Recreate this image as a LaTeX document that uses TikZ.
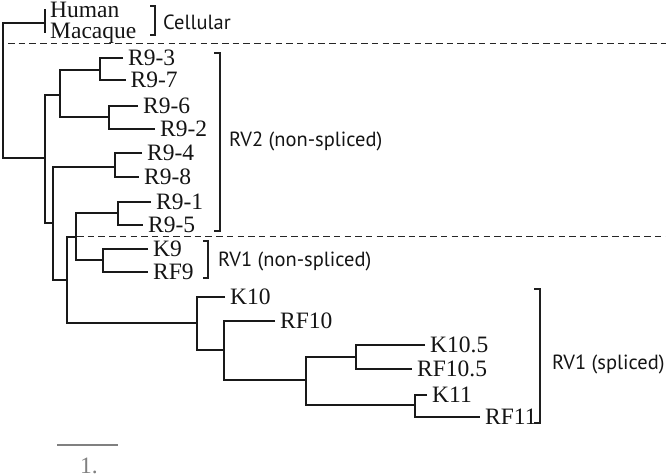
\documentclass[tikz,border=0pt]{standalone}
\usepackage{fontspec}
\setmainfont{Liberation Serif}
\newfontfamily\labsans{PT Sans}
\begin{document}
\begin{tikzpicture}[x=1pt,y=-1pt,
  tree/.style={line width=2pt, draw=black!90},
  leaf/.style={anchor=west, inner xsep=5pt, inner ysep=0pt, text height=15pt, text depth=0pt, font=\fontsize{23.5}{23.5}\selectfont, text=black!92},
  brk/.style={line width=1.5pt, draw=black!88},
  grp/.style={anchor=base west, inner sep=0pt, font=\labsans\fontsize{20.5}{21}\selectfont, text=black!92},
  sepline/.style={line width=1.3pt, draw=black!85, dash pattern=on 6.5pt off 4.2pt},
  scalebar/.style={line width=1.8pt, draw=black!50}]
\useasboundingbox (0,0) rectangle (666,475);

% internal nodes (x of node, y where parent joins)
\coordinate (root) at (3,90);
\coordinate (cell) at (45,23);
\coordinate (A) at (45,158);
\coordinate (B) at (60,95);
\coordinate (C) at (100,70);
\coordinate (D) at (109,117);
\coordinate (E) at (53,223);
\coordinate (F) at (115,167);
\coordinate (G) at (67,280);
\coordinate (H) at (76,237);
\coordinate (I) at (118,213);
\coordinate (J) at (103,260);
\coordinate (K) at (197,323);
\coordinate (L) at (224,350);
\coordinate (M) at (306,380);
\coordinate (N) at (356,357);
\coordinate (O) at (415,405);

% leaves
\node[leaf] (hum) at (45,10) {Human};
\node[leaf] (mac) at (45,31) {Macaque};
\node[leaf] (r93) at (123,58) {R9-3};
\node[leaf] (r97) at (125.5,79.5) {R9-7};
\node[leaf] (r96) at (138,106) {R9-6};
\node[leaf] (r92) at (155,129) {R9-2};
\node[leaf] (r94) at (142,153) {R9-4};
\node[leaf] (r98) at (139,177) {R9-8};
\node[leaf] (r91) at (151,202) {R9-1};
\node[leaf] (r95) at (143,225) {R9-5};
\node[leaf] (k9) at (148,248.5) {K9};
\node[leaf] (rf9) at (148,272) {RF9};
\node[leaf] (k10) at (225,297) {K10};
\node[leaf] (rf10) at (275,321) {RF10};
\node[leaf] (k105) at (425,345) {K10.5};
\node[leaf] (rf105) at (412,369) {RF10.5};
\node[leaf] (k11) at (427,395) {K11};
\node[leaf] (rf11) at (480,417) {RF11};

% branches
\draw[tree] ([yshift=1pt]hum.west) -- ([yshift=-2pt]mac.west);
\draw[tree] (cell) -| (root) |- (A);
\draw[tree] (B) -| (A) |- (E);
\draw[tree] (C) -| (B) |- (D);
\draw[tree] (r93.west) -| (C) |- (r97.west);
\draw[tree] (r96.west) -| (D) |- (r92.west);
\draw[tree] (F) -| (E) |- (G);
\draw[tree] (r94.west) -| (F) |- (r98.west);
\draw[tree] (H) -| (G) |- (K);
\draw[tree] (I) -| (H) |- (J);
\draw[tree] (r91.west) -| (I) |- (r95.west);
\draw[tree] (k9.west) -| (J) |- (rf9.west);
\draw[tree] (k10.west) -| (K) |- (L);
\draw[tree] (rf10.west) -| (L) |- (M);
\draw[tree] (N) -| (M) |- (O);
\draw[tree] (k105.west) -| (N) |- (rf105.west);
\draw[tree] (k11.west) -| (O) |- (rf11.west);

% separators
\coordinate (s1a) at (8,43.5);
\coordinate (s1b) at (666,43.5);
\coordinate (s2a) at (77,236.5);
\coordinate (s2b) at (666,236.5);
\draw[sepline] (s1a) -- (s1b);
\draw[sepline] (s2a) -- (s2b);

% brackets
\draw[brk] (150,6) -- (155,6) -- (155,35) -- (150,35);
\node[grp] (lcell) at (163,29) {Cellular};
\draw[brk] (214,53) -- (220,53) -- (220,231) -- (214,231);
\node[grp] (lrv2) at (229,146) {RV2 (non-spliced)};
\draw[brk] (203,241) -- (208,241) -- (208,278) -- (203,278);
\node[grp] (lrv1n) at (218,266.5) {RV1 (non-spliced)};
\draw[brk] (534,289) -- (540,289) -- (540,423) -- (534,423);
\node[grp] (lrv1s) at (552,369) {RV1 (spliced)};

% scale
\coordinate (sba) at (57,445);
\coordinate (sbb) at (118,445);
\draw[scalebar] (sba) -- (sbb);
\node[anchor=base west, inner sep=0pt, font=\fontsize{23.5}{23.5}\selectfont, text=black!50] (sbl) at (80,473) {1.};
\end{tikzpicture}
\end{document}
